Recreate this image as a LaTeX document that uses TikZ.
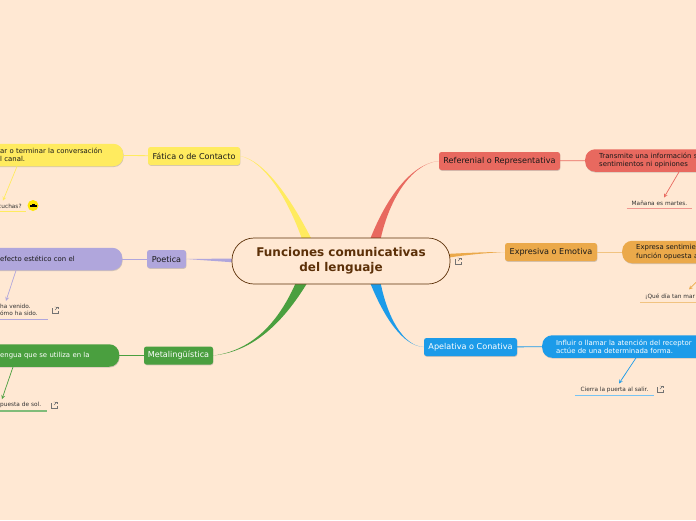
\documentclass[tikz,border=0pt]{standalone}
\usepackage{fontspec}
\setmainfont{DejaVu Sans}
\usetikzlibrary{shadows,calc}
\definecolor{fondo}{HTML}{FFE8D3}
\definecolor{marron}{HTML}{5C3008}
\definecolor{amarillo}{HTML}{FFEB5F}
\definecolor{rojo}{HTML}{E8695F}
\definecolor{naranja}{HTML}{EBA94A}
\definecolor{azul}{HTML}{1C9BE9}
\definecolor{verde}{HTML}{4A9F3F}
\definecolor{lila}{HTML}{B0A6DC}
\tikzset{
  rama/.style={rounded corners=2.5pt, minimum height=18pt, inner sep=0pt, font=\fontsize{8.1}{9}\selectfont, drop shadow={shadow xshift=0.4pt, shadow yshift=-0.8pt, opacity=0.35}},
  pill/.style={rounded corners=10pt, minimum height=22.5pt, inner xsep=14pt, inner ysep=0pt, align=left, anchor=west, font=\fontsize{6.9}{8.2}\selectfont, drop shadow={shadow xshift=0.4pt, shadow yshift=-0.8pt, opacity=0.35}},
  hoja/.style={inner xsep=0pt, inner ysep=3pt, align=left, text=black!80, font=\fontsize{5.8}{8}\selectfont},
  raya/.style={line width=1.3pt},
  flecha/.style={->, >=stealth, line width=0.7pt},
}
\newcommand{\enlace}[2]{% icono de enlace
  \draw[black!55, line width=0.45pt] (#1-3,#2-2) -- (#1-3,#2+3) -- (#1+3,#2+3) -- (#1+3,#2+0.5);
  \draw[black!55, line width=0.45pt] (#1-0.5,#2-3) -- (#1+0.8,#2-3) (#1+3,#2-3) -- (#1,#2);
  \draw[black!55, line width=0.45pt] (#1+1.2,#2-3) -- (#1+3,#2-3) -- (#1+3,#2-1.2);
}
\begin{document}
\begin{tikzpicture}[x=1pt, y=-1pt]
  \useasboundingbox (0,0) rectangle (696,520);
  \clip (0,0) rectangle (696,520);
  \fill[fondo] (0,0) rectangle (696,520);

  % nodo central y ramas
  \coordinate (centro) at (341,261);
  \node[rama, fill=amarillo, minimum width=92pt, text=black!90] (fatica) at (194,156) {Fática o de Contacto};
  \node[rama, fill=lila, minimum width=39pt, text=black!90] (poetica) at (166.5,259) {Poetica};
  \node[rama, fill=verde, minimum width=69pt, text=white] (meta) at (178.5,355.5) {Metalingüística};
  \node[rama, fill=rojo, minimum width=121pt, text=black!90] (referen) at (499.5,161) {Referenial o Representativa};
  \node[rama, fill=naranja, minimum width=92pt, text=black!90] (expres) at (551,252) {Expresiva o Emotiva};
  \node[rama, fill=azul, minimum width=93pt, text=white] (apela) at (470.5,347) {Apelativa o Conativa};

  % conectores gruesos hacia el centro
  \fill[amarillo] (fatica.east) .. controls (264,161) and (288,198) .. (303,242) -- (313,242) .. controls (291,198) and (264,160) .. (fatica.east) -- cycle;
  \fill[rojo] (referen.west) .. controls (410,164) and (385,200) .. (369,242) -- (380,242) .. controls (388,202) and (410,164) .. (referen.west) -- cycle;
  \fill[verde] (meta.east) .. controls (250,351) and (278,325) .. (297,280) -- (309,280) .. controls (281,327) and (250,352) .. (meta.east) -- cycle;
  \fill[azul] (apela.west) .. controls (403,346) and (384,318) .. (369,280) -- (380,280) .. controls (387,317) and (403,346) .. (apela.west) -- cycle;
  \fill[lila] (poetica.east) -- (236,258.5) -- (236,262.5) -- cycle;
  \fill[naranja] (expres.west) .. controls (485,252) and (465,253) .. (446,254) -- (446,258) .. controls (465,255) and (485,253) .. (expres.west) -- cycle;

  \node[draw=marron, line width=0.7pt, fill=fondo, rounded corners=22pt, minimum width=218pt, minimum height=46pt, inner sep=0pt, align=center, text=marron, font=\fontsize{12}{15}\selectfont\bfseries] (raiz) at (centro) {Funciones comunicativas\\del lenguaje};
  \enlace{458}{261}

  % detalles de cada rama
  \node[pill, fill=amarillo, text=black!90, text width=109pt] (d1) at (-14,155) {ar o terminar la conversación\\l canal.};
  \node[pill, fill=lila, text=black!90, text width=108pt] (d2) at (-14,259) {efecto estético con el\\[8pt]};
  \node[pill, fill=verde, text=white, text width=105pt] (d3) at (-14,355.5) {engua que se utiliza en la\\[8pt]};
  \node[pill, fill=rojo, text=black!90, text width=150pt] (d4) at (585,160.5) {Transmite una información s\\sentimientos ni opiniones};
  \node[pill, fill=naranja, text=black!90, text width=150pt] (d5) at (622,252) {Expresa sentimie\\función opuesta a};
  \node[pill, fill=azul, text=white, text width=170pt] (d6) at (542,346.5) {Influir o llamar la atención del receptor\\actúe de una determinada forma.};

  \draw[amarillo, line width=0.8pt] (fatica) -- (d1);
  \draw[lila, line width=1pt] (poetica) -- (d2);
  \draw[verde, line width=0.8pt] (meta) -- (d3);
  \draw[rojo, line width=0.8pt] (referen) -- (d4);
  \draw[naranja!70, line width=1pt] (expres) -- (d5);
  \draw[azul, line width=0.8pt] (apela) -- (d6);

  % ejemplos
  \node[hoja, anchor=west, text width=28pt] (h1) at (-2,206) {cuchas?};
  \node[hoja, anchor=west, text width=48pt] (h2) at (0,310) {ha venido.\\[-0.5pt]ómo ha sido.};
  \node[hoja, anchor=west, text width=47pt] (h3) at (0,405) {puesta de sol.};
  \node[hoja, minimum width=65pt, align=center] (h4) at (659.5,203) {Mañana es martes.};
  \node[hoja, anchor=west, text width=70pt] (h5) at (640,296.5) {\hspace{5pt}¡Qué día tan mar};
  \node[hoja, minimum width=79pt, align=center] (h6) at (614.5,389.5) {Cierra la puerta al salir.};

  \draw[raya, amarillo] (h1.south west) -- (h1.south east);
  \draw[raya, lila] (h2.south west) -- (h2.south east);
  \draw[raya, verde!70] (h3.south west) -- (h3.south east);
  \draw[raya, rojo!70] (h4.south west) -- (h4.south east);
  \draw[raya, naranja!70] (h5.south west) -- (h5.south east);
  \draw[raya, azul!60] (h6.south west) -- (h6.south east);

  \draw[flecha, amarillo] ([xshift=31pt]d1.south west) -- ([xshift=5pt]h1.north west);
  \draw[flecha, lila] ([xshift=30pt]d2.south west) -- ([xshift=6pt]h2.north west);
  \draw[flecha, verde] ([xshift=27pt]d3.south west) -- ([xshift=2pt]h3.north west);
  \draw[flecha, rojo] ([xshift=94pt]d4.south west) -- ([xshift=4.5pt]h4.north);
  \draw[flecha, naranja] ($(d5.south west)+(74,19)$) -- ($(h5.north west)+(49,-1)$);
  \draw[flecha, azul] ([xshift=94pt]d6.south west) -- ([xshift=4.5pt]h6.north);

  % iconos
  \fill[yellow!90!orange] (33,205.5) circle (5.5pt);
  \fill[black] (29.5,204.5) rectangle (36.5,206.5);
  \fill[black] (31.5,203.5) rectangle (34.5,204.5);
  \enlace{55}{310}
  \enlace{54}{405}
  \enlace{660}{389}
\end{tikzpicture}
\end{document}
